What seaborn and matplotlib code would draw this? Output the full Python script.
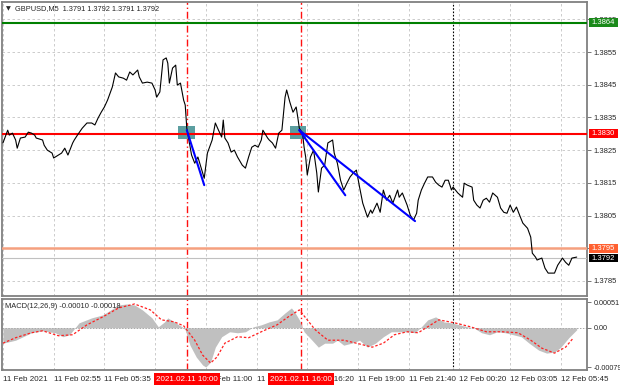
import matplotlib
matplotlib.use('Agg')
import matplotlib.pyplot as plt
import matplotlib.transforms as mtransforms
from matplotlib.patches import Rectangle
import seaborn as sns

# GBPUSD M5 close prices, x = bar number from 11 Feb 00:00
bars = [0, 3, 4, 6, 8, 9, 11, 14, 16, 18, 20, 21, 25, 26, 28, 31, 32, 35, 37, 39,
        41, 44, 45, 47, 50, 53, 56, 58, 60, 62, 64, 66, 69, 71, 73, 76, 78, 80, 82, 85,
        86, 88, 91, 94, 96, 97, 99, 101, 103, 104, 105, 107, 109, 110, 112, 114, 115, 116, 117, 119,
        121, 123, 126, 127, 129, 132, 134, 136, 138, 139, 140, 142, 144, 146, 148, 151, 153, 155, 157, 159,
        161, 163, 164, 167, 168, 170, 172, 174, 176, 178, 179, 181, 183, 185, 186, 187, 189, 190, 191, 192,
        194, 196, 198, 199, 201, 203, 205, 208, 209, 211, 213, 215, 217, 219, 221, 223, 225, 227, 230, 232,
        233, 236, 238, 240, 242, 244, 246, 249, 250, 252, 255, 257, 259, 261, 262, 264, 266, 268, 271, 273,
        275, 277, 279, 281, 283, 284, 287, 290, 291, 293, 296, 297, 299, 301, 303, 305, 307, 309, 312, 314,
        316, 318, 320, 322, 324, 326, 328, 331, 333, 334, 336, 337, 340, 342, 344, 346, 348, 350, 353, 355,
        357, 359, 362]
prices = [1.38272, 1.38311, 1.38296, 1.38302, 1.38281, 1.38256, 1.38287, 1.38290, 1.38305, 1.38302,
          1.38296, 1.38287, 1.38281, 1.38265, 1.38250, 1.38241, 1.38226, 1.38235, 1.38241, 1.38256,
          1.38235, 1.38272, 1.38281, 1.38296, 1.38317, 1.38333, 1.38333, 1.38327, 1.38348, 1.38366,
          1.38382, 1.38403, 1.38443, 1.38486, 1.38474, 1.38470, 1.38464, 1.38489, 1.38480, 1.38495,
          1.38474, 1.38455, 1.38458, 1.38455, 1.38434, 1.38412, 1.38428, 1.38526, 1.38532, 1.38516,
          1.38455, 1.38501, 1.38510, 1.38449, 1.38455, 1.38403, 1.38388, 1.38317, 1.38290, 1.38235,
          1.38210, 1.38229, 1.38180, 1.38164, 1.38241, 1.38281, 1.38333, 1.38311, 1.38290, 1.38342,
          1.38287, 1.38272, 1.38244, 1.38250, 1.38229, 1.38204, 1.38195, 1.38229, 1.38259, 1.38265,
          1.38259, 1.38281, 1.38311, 1.38287, 1.38281, 1.38272, 1.38256, 1.38302, 1.38311, 1.38412,
          1.38434, 1.38397, 1.38366, 1.38382, 1.38351, 1.38317, 1.38302, 1.38259, 1.38229, 1.38174,
          1.38229, 1.38250, 1.38180, 1.38122, 1.38195, 1.38204, 1.38272, 1.38281, 1.38241, 1.38210,
          1.38158, 1.38128, 1.38149, 1.38168, 1.38180, 1.38189, 1.38137, 1.38088, 1.38045, 1.38067,
          1.38057, 1.38088, 1.38060, 1.38128, 1.38097, 1.38112, 1.38088, 1.38128, 1.38106, 1.38119,
          1.38082, 1.38051, 1.38036, 1.38057, 1.38097, 1.38128, 1.38149, 1.38168, 1.38168, 1.38152,
          1.38143, 1.38137, 1.38158, 1.38158, 1.38128, 1.38137, 1.38119, 1.38106, 1.38149, 1.38143,
          1.38137, 1.38097, 1.38082, 1.38073, 1.38097, 1.38103, 1.38091, 1.38119, 1.38106, 1.38073,
          1.38060, 1.38057, 1.38082, 1.38060, 1.38076, 1.38051, 1.38027, 1.38011, 1.37984, 1.37935,
          1.37923, 1.37914, 1.37920, 1.37889, 1.37874, 1.37874, 1.37874, 1.37898, 1.37920, 1.37907,
          1.37898, 1.37920, 1.37923]

# MACD(12,26,9) histogram and signal line
hist_bars = [0, 8, 18, 25, 33, 38, 42, 45, 48, 56, 63, 68, 73, 78, 83, 88, 94, 98, 102, 104,
             108, 113, 115, 118, 122, 126, 128, 131, 134, 138, 143, 148, 153, 158, 163, 168, 173, 178, 182, 184,
             187, 190, 195, 199, 203, 208, 211, 215, 220, 225, 230, 235, 240, 245, 250, 255, 260, 264, 268, 273,
             278, 283, 288, 293, 297, 302, 307, 312, 317, 322, 327, 332, 338, 343, 348, 352, 357, 362]
hist_vals = [-0.00031, -0.00025, -0.00010, -0.00006, -0.00010, -0.00018, -0.00014, -0.00002, 0.00010, 0.00020,
             0.00026, 0.00036, 0.00046, 0.00048, 0.00046, 0.00036, 0.00020, 0.00002, 0.00012, 0.00020,
             0.00012, 0.00002, -0.00004, -0.00035, -0.00059, -0.00075, -0.00079, -0.00069, -0.00039, -0.00018,
             -0.00008, -0.00010, -0.00008, 0.00002, 0.00006, 0.00012, 0.00016, 0.00030, 0.00040, 0.00032,
             0.00016, -0.00008, -0.00025, -0.00039, -0.00031, -0.00031, -0.00025, -0.00035, -0.00031, -0.00025,
             -0.00039, -0.00031, -0.00018, -0.00008, -0.00008, -0.00008, -0.00010, 0.00002, 0.00016, 0.00022,
             0.00012, 0.00010, 0.00006, 0.00002, 0.00000, -0.00010, -0.00014, -0.00008, -0.00010, -0.00014,
             -0.00018, -0.00031, -0.00045, -0.00051, -0.00049, -0.00039, -0.00020, -0.00004]
sig_bars = [0, 8, 18, 25, 35, 44, 53, 63, 73, 83, 93, 100, 108, 114, 121, 126, 131, 135, 140, 148,
            155, 163, 173, 180, 187, 192, 197, 205, 215, 223, 233, 240, 247, 255, 262, 268, 275, 285, 295, 305,
            315, 325, 333, 340, 348, 355, 360]
sig_vals = [-0.00031, -0.00020, -0.00010, -0.00006, -0.00016, -0.00014, 0.00006, 0.00022, 0.00040, 0.00048,
            0.00036, 0.00016, 0.00012, 0.00004, -0.00025, -0.00055, -0.00071, -0.00059, -0.00031, -0.00018,
            -0.00020, -0.00008, 0.00006, 0.00022, 0.00036, 0.00016, -0.00004, -0.00025, -0.00025, -0.00031,
            -0.00039, -0.00031, -0.00014, -0.00008, -0.00010, 0.00002, 0.00016, 0.00010, 0.00002, -0.00008,
            -0.00008, -0.00010, -0.00025, -0.00041, -0.00051, -0.00039, -0.00020]

tick_bars = [0, 32, 64, 96, 128, 160, 192, 224, 256, 288, 320, 352]
tick_labels = ['11 Feb 2021', '11 Feb 02:55', '11 Feb 05:35', '11 Feb 08:15', '11 Feb 11:00',
               '11 Feb 13:40', '11 Feb 16:20', '11 Feb 19:00', '11 Feb 21:40', '12 Feb 00:20',
               '12 Feb 03:05', '12 Feb 05:45']
price_ticks = [1.3865, 1.3855, 1.3845, 1.3835, 1.3825, 1.3815, 1.3805, 1.3795, 1.3785]

# horizontal levels and price tags on the right
level_prices = [1.3864, 1.3830, 1.3795]
tag_prices = [1.3864, 1.3830, 1.3795, 1.3792]
bid_price = 1.3792

# entry signals (vertical lines), entry boxes and target lines
signal_bars = [116, 188]
signal_labels = ['2021.02.11 10:00', '2021.02.11 16:00']
session_bar = 284
entry_bars = [110.5, 181.0]
trend_x = [[116, 127], [187, 216], [187, 260]]
trend_y = [[1.38311, 1.38143], [1.38311, 1.38112], [1.38311, 1.38033]]

sns.set_style('white')
plt.rcParams['font.family'] = ['Liberation Sans', 'DejaVu Sans']
FS_X = 5.8
FS_Y = 5.5
grid_kw = dict(color='#c4c4c4', lw=0.6, ls=(0, (3, 3)))

fig = plt.figure(figsize=(6.2, 3.88), dpi=100)
ax = fig.add_axes([2 / 620, 1 - 296 / 388, 585 / 620, 294 / 388])
ax2 = fig.add_axes([2 / 620, 1 - 370 / 388, 585 / 620, 71 / 388])

for a in (ax, ax2):
    a.set_xlim(-0.6, 368.5)
    a.set_xticks(tick_bars)
    a.grid(True, **grid_kw)
    a.set_axisbelow(True)
    a.yaxis.tick_right()
    for s in a.spines.values():
        s.set_color('#808080')
        s.set_linewidth(1.3)
    a.tick_params(axis='y', length=3, width=0.6, color='#606060', labelsize=FS_Y, pad=2)
    for b in signal_bars:
        a.axvline(b, color='#ff1010', ls=(0, (5, 2, 1, 2)), lw=1.0, zorder=1.5)
    a.axvline(session_bar, color='black', ls=(0, (1.5, 1.5)), lw=0.8, zorder=1.5)

# ---- price panel
ax.set_ylim(1.37804, 1.38703)
ax.set_yticks(price_ticks)
ax.set_yticklabels([f'{p:.4f}' for p in price_ticks])
ax.tick_params(axis='x', length=0, labelbottom=False)

for b in entry_bars:
    ax.add_patch(Rectangle((b, 1.38284), 10.5, 0.0004, color='#5b9ea0', lw=0, zorder=2))

ax.axhline(level_prices[0], color='#008000', lw=1.5, zorder=3)
ax.axhline(level_prices[1], color='#ff0000', lw=1.5, zorder=3)
ax.axhline(level_prices[2], color='#f5a07f', lw=1.8, zorder=3)
ax.axhline(bid_price, color='#c0c0c0', lw=0.8, zorder=3)

sns.lineplot(x=bars, y=prices, ax=ax, color='black', lw=0.8, estimator=None, zorder=4)
for tx, ty in zip(trend_x, trend_y):
    sns.lineplot(x=tx, y=ty, ax=ax, color='#0000ff', lw=1.5, estimator=None, zorder=5)

# price tags drawn as boxes just right of the plot frame
tag_colors = ['#1a8a1a', '#ff0000', '#ff6030', '#000000']
trans = mtransforms.blended_transform_factory(ax.transAxes, ax.transData)
half_h = 4.3 / 32710
for p, c in zip(tag_prices, tag_colors):
    ax.add_patch(Rectangle((1 + 2 / 585, p - half_h), 29 / 585, 2 * half_h, transform=trans,
                           fc=c, ec='none', clip_on=False, zorder=9))
    ax.text(1 + 16.5 / 585, p, f'{p:.4f}', transform=trans, ha='center', va='center',
            fontsize=FS_Y, color='white', clip_on=False, zorder=10)

ax.text(0.006, 0.978, '\u25bc', transform=ax.transAxes, fontsize=4.5, va='center', ha='left',
        family='DejaVu Sans')
ax.text(0.022, 0.978, 'GBPUSD,M5  1.3791 1.3792 1.3791 1.3792', transform=ax.transAxes,
        fontsize=5.3, va='center', ha='left')

# ---- MACD panel
ax2.set_ylim(-0.00085, 0.00058)
ax2.set_yticks([0.00051, 0.0, -0.00079])
ax2.set_yticklabels(['0.00051', '0.00', '-0.00079'])
ax2.yaxis.grid(False)
ax2.fill_between(hist_bars, hist_vals, 0, color='#c0c0c0', lw=0, zorder=2)
ax2.axhline(0, color='#a8a8a8', lw=0.7, ls=(0, (1.5, 1.5)), zorder=2.5)
sns.lineplot(x=sig_bars, y=sig_vals, ax=ax2, color='#ff2020', lw=0.9,
             linestyle=(0, (2, 1.5)), estimator=None, zorder=3)
ax2.set_xticklabels(tick_labels)
ax2.tick_params(axis='x', length=3, width=0.6, color='#606060', labelsize=FS_X, pad=1.5)
ax2.tick_params(axis='y', labelsize=5.2, pad=1.5)
for lab in ax2.get_xticklabels():
    lab.set_ha('left')
for a in (ax, ax2):
    a.set_xlabel('')
    a.set_ylabel('')

ax2.text(0.005, 0.9, 'MACD(12,26,9) -0.00010 -0.00018', transform=ax2.transAxes,
         fontsize=5.45, va='center', ha='left')

trans2 = mtransforms.blended_transform_factory(ax2.transData, ax2.transAxes)
for b, lab in zip(signal_bars, signal_labels):
    ax2.text(b, -0.13, lab, transform=trans2, ha='center', va='center', fontsize=FS_X,
             color='white', clip_on=False, zorder=10,
             bbox=dict(boxstyle='square,pad=0.3', fc='#ff0000', ec='none'))

fig.savefig('out.png', dpi=100)
